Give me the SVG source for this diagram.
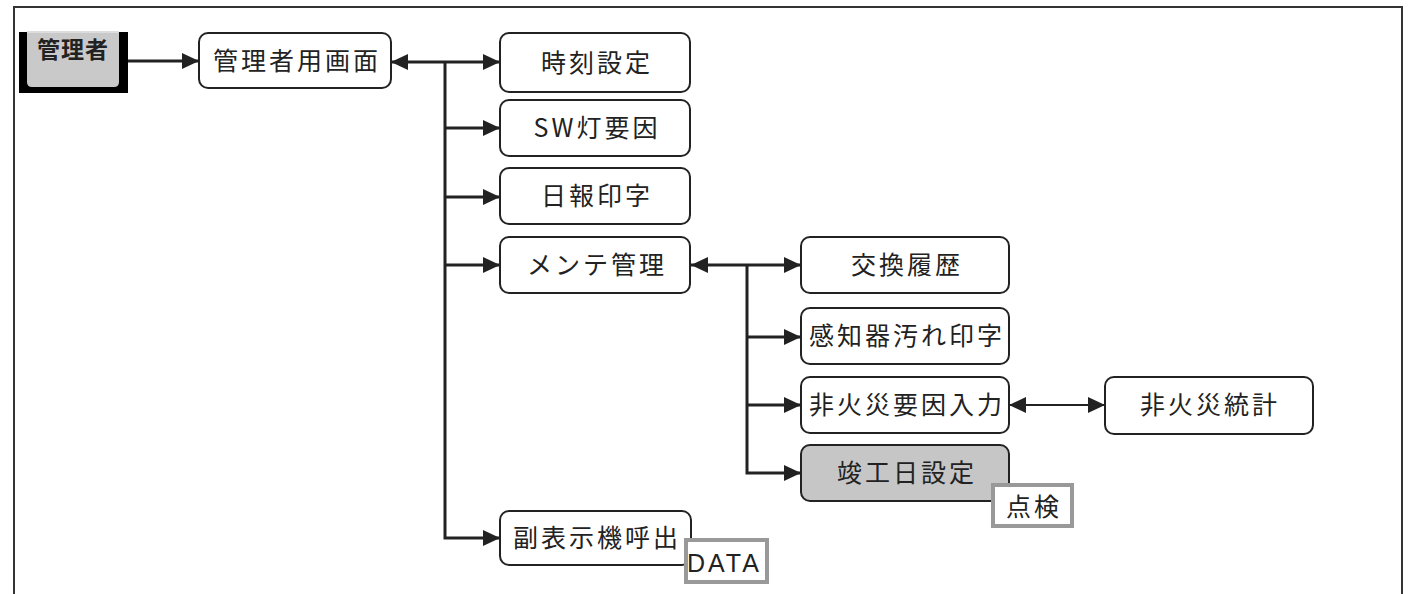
<svg xmlns="http://www.w3.org/2000/svg" width="1408" height="594" viewBox="0 0 1408 594">
<style>
.box{fill:#fff;stroke:#222;stroke-width:2}
.gray{fill:#c6c6c6}
.t{font-family:"Noto Sans CJK JP","Noto Sans",sans-serif;font-size:25px;letter-spacing:3px;fill:#222;text-anchor:middle}
.tag{fill:#fff;stroke:#999;stroke-width:4}
.c{fill:none;stroke:#222;stroke-width:3}
.c2{fill:none;stroke:#222;stroke-width:2}
</style>
<defs>
<marker id="ah" viewBox="0 0 17 16" refX="17" refY="8" markerWidth="17" markerHeight="16" markerUnits="userSpaceOnUse" orient="auto-start-reverse">
<path d="M0,0 L17,8 L0,16 Z" fill="#222"/>
</marker>
</defs>
<rect width="1408" height="594" fill="#fff"/>
<path d="M14,600 V7 H1402 V600" fill="none" stroke="#333" stroke-width="2"/>

<g id="connectors">
<path class="c" d="M128,61 H199" marker-end="url(#ah)"/>
<path class="c" d="M391,62 H500" marker-start="url(#ah)" marker-end="url(#ah)"/>
<path class="c" d="M445,62 V538 H500" marker-end="url(#ah)"/>
<path class="c" d="M445,128 H500" marker-end="url(#ah)"/>
<path class="c" d="M445,197 H500" marker-end="url(#ah)"/>
<path class="c" d="M445,265 H500" marker-end="url(#ah)"/>
<path class="c" d="M691,265 H801" marker-start="url(#ah)" marker-end="url(#ah)"/>
<path class="c" d="M747,265 V473 H801" marker-end="url(#ah)"/>
<path class="c" d="M747,337 H801" marker-end="url(#ah)"/>
<path class="c" d="M747,405 H801" marker-end="url(#ah)"/>
<path class="c2" d="M1009,405 H1105" marker-start="url(#ah)" marker-end="url(#ah)"/>
</g>

<g id="n-admin">
<rect x="19" y="32" width="109" height="61" fill="#000"/>
<rect x="27" y="31" width="92" height="3" fill="#ddd"/>
<path d="M27,33 H119 V82 Q119,87 114,87 H32 Q27,87 27,82 Z" fill="#c9c9c9"/>
<text x="73" y="58" font-family="'Noto Sans CJK JP',sans-serif" font-size="23" font-weight="bold" letter-spacing="1" fill="#222" text-anchor="middle">管理者</text>
</g>

<g id="n-adminscreen">
<rect class="box" x="199" y="33" width="192" height="55" rx="9"/>
<text class="t" x="297" y="70">管理者用画面</text>
</g>
<g id="n-time">
<rect class="box" x="500" y="33" width="190" height="59" rx="9"/>
<text class="t" x="597" y="72">時刻設定</text>
</g>
<g id="n-sw">
<rect class="box" x="500" y="100" width="190" height="56" rx="9"/>
<text class="t" x="597" y="137">SW灯要因</text>
</g>
<g id="n-daily">
<rect class="box" x="500" y="168" width="190" height="56" rx="9"/>
<text class="t" x="597" y="205">日報印字</text>
</g>
<g id="n-maint">
<rect class="box" x="500" y="237" width="190" height="56" rx="9"/>
<text class="t" x="597" y="274">メンテ管理</text>
</g>
<g id="n-sub">
<rect class="box" x="500" y="511" width="191" height="54" rx="9"/>
<text class="t" x="597" y="547">副表示機呼出</text>
</g>
<g id="n-data">
<rect class="tag" x="686" y="540" width="81" height="42"/>
<text x="687" y="572" font-family="'Liberation Sans',sans-serif" font-size="25" letter-spacing="3" fill="#222">DATA</text>
</g>
<g id="n-exchange">
<rect class="box" x="801" y="237" width="208" height="56" rx="9"/>
<text class="t" x="907" y="274">交換履歴</text>
</g>
<g id="n-dirty">
<rect class="box" x="801" y="308" width="208" height="56" rx="9"/>
<text class="t" x="907" y="345">感知器汚れ印字</text>
</g>
<g id="n-nonfire">
<rect class="box" x="801" y="377" width="208" height="56" rx="9"/>
<text class="t" x="907" y="414">非火災要因入力</text>
</g>
<g id="n-complete">
<rect class="box gray" x="801" y="445" width="208" height="56" rx="9"/>
<text class="t" x="907" y="482">竣工日設定</text>
</g>
<g id="n-inspect">
<rect class="tag" x="993" y="485" width="79" height="41"/>
<text class="t" x="1034" y="516">点検</text>
</g>
<g id="n-stats">
<rect class="box" x="1105" y="377" width="208" height="57" rx="9"/>
<text class="t" x="1210" y="414">非火災統計</text>
</g>
</svg>
